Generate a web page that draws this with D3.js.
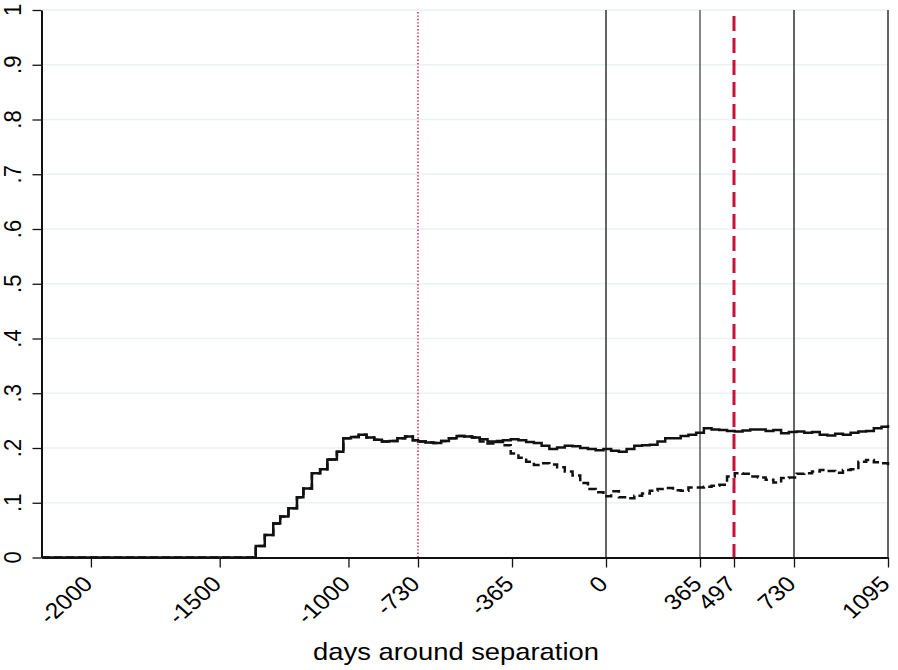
<!DOCTYPE html>
<html>
<head>
<meta charset="utf-8">
<script src="https://d3js.org/d3.v7.min.js"></script>
<style>
  body { margin: 0; background: #fff; }
  text { font-family: "Liberation Sans", Arial, sans-serif; }
</style>
</head>
<body>
<div id="chart"></div>
<script>

    // days around separation (x) and the two step series
    const days = [-2190, -1360, -1325, -1292, -1265, -1233, -1200, -1175, -1142, -1110, -1082, -1045,
        -1020, -990, -960, -930, -900, -870, -840, -810, -780, -750, -730, -700, -670, -640, -610,
        -580, -550, -520, -490, -460, -430, -400, -370, -340, -310, -280, -250, -220, -190, -160,
        -130, -100, -70, -40, -10, 20, 50, 80, 110, 140, 170, 200, 230, 260, 290, 320, 350, 380,
        410, 440, 470, 500, 530, 560, 590, 620, 650, 680, 710, 740, 770, 800, 830, 860, 890, 920,
        950, 980, 1010, 1040, 1070, 1095];

    const solid = [0, 0.021, 0.041, 0.062, 0.075, 0.090, 0.110, 0.126, 0.154, 0.161, 0.179, 0.193,
        0.218, 0.220, 0.224, 0.219, 0.215, 0.212, 0.213, 0.218, 0.221, 0.214, 0.212, 0.210, 0.209, 0.213, 0.218,
        0.222, 0.221, 0.219, 0.216, 0.212, 0.211, 0.214, 0.216, 0.214, 0.211, 0.209, 0.204, 0.198, 0.201, 0.204,
        0.203, 0.200, 0.198, 0.196, 0.198, 0.195, 0.193, 0.198, 0.204, 0.205, 0.206, 0.212, 0.218, 0.218, 0.222, 0.224, 0.228, 0.236,
        0.234, 0.233, 0.231, 0.230, 0.232, 0.234, 0.234, 0.231, 0.233, 0.227, 0.229, 0.230, 0.228, 0.229, 0.224, 0.223, 0.226, 0.224,
        0.228, 0.230, 0.231, 0.236, 0.239, 0.242];

    const dashed = [0, 0.021, 0.041, 0.062, 0.075, 0.090, 0.110, 0.126, 0.154, 0.161, 0.179, 0.193,
        0.218, 0.220, 0.224, 0.219, 0.215, 0.212, 0.213, 0.218, 0.221, 0.214, 0.212, 0.210, 0.209, 0.213, 0.218,
        0.222, 0.221, 0.219, 0.212, 0.208, 0.213, 0.205, 0.190, 0.182, 0.175, 0.169, 0.172, 0.170, 0.165, 0.157,
        0.150, 0.136, 0.125, 0.119, 0.112, 0.121, 0.110, 0.108, 0.113, 0.117, 0.122, 0.125, 0.127, 0.123, 0.122, 0.128, 0.128, 0.129,
        0.131, 0.133, 0.148, 0.154, 0.153, 0.148, 0.146, 0.142, 0.137, 0.145, 0.146, 0.153, 0.154, 0.157, 0.160, 0.158, 0.155, 0.160,
        0.161, 0.175, 0.178, 0.174, 0.172, 0.163];

    const xTicks = [-2000, -1500, -1000, -730, -365, 0, 365, 497, 730, 1095];
    const yTicks = [0, .1, .2, .3, .4, .5, .6, .7, .8, .9, 1];
    const blackLines = [0, 365, 730, 1095];
    const redDotted = [-730];
    const redDashed = [497];

    const width = 898, height = 670;
    const plot = {left: 42, right: 888, top: 10, bottom: 557.5};
    const stretch = 1.12;   // the original export is a bit wider than tall

    const svg = d3.select("#chart")
        .append("svg")
            .attr("width", width)
            .attr("height", height);

    const x = d3.scaleLinear().domain([-2190, 1095]).range([plot.left, plot.right]);
    const y = d3.scaleLinear().domain([0, 1]).range([plot.bottom, plot.top]);

    // grid
    svg.append("g")
        .selectAll("line")
        .data(yTicks.filter(d => d > 0))
        .join("line")
            .attr("x1", plot.left).attr("x2", plot.right)
            .attr("y1", d => y(d)).attr("y2", d => y(d))
            .attr("stroke", "#eaf2f3")
            .attr("stroke-width", 1.5);

    // reference lines
    svg.append("g")
        .selectAll("line")
        .data(blackLines)
        .join("line")
            .attr("x1", d => x(d)).attr("x2", d => x(d))
            .attr("y1", plot.top).attr("y2", plot.bottom)
            .attr("stroke", d => d == 365 ? "#444" : "#111")
            .attr("stroke-width", 1.3);

    svg.append("g")
        .selectAll("line")
        .data(redDotted)
        .join("line")
            .attr("x1", d => x(d)).attr("x2", d => x(d))
            .attr("y1", plot.top + 2).attr("y2", plot.bottom)
            .attr("stroke", "#c8103c")
            .attr("stroke-width", 1.4)
            .attr("stroke-dasharray", "1.4,2");

    svg.append("g")
        .selectAll("line")
        .data(redDashed)
        .join("line")
            .attr("x1", d => x(d)).attr("x2", d => x(d))
            .attr("y1", plot.top + 6).attr("y2", plot.bottom)
            .attr("stroke", "#c8103c")
            .attr("stroke-width", 3)
            .attr("stroke-dasharray", "15,7");

    // series
    const line = d3.line()
        .x(d => x(d[0]))
        .y(d => y(d[1]))
        .curve(d3.curveStepAfter);

    svg.append("path")
        .datum(days.map((d, i) => [d, dashed[i]]))
        .attr("d", line)
        .attr("fill", "none")
        .attr("stroke", "#111")
        .attr("stroke-width", 2.5)
        .attr("stroke-dasharray", "8,4");

    svg.append("path")
        .datum(days.map((d, i) => [d, solid[i]]))
        .attr("d", line)
        .attr("fill", "none")
        .attr("stroke", "#111")
        .attr("stroke-width", 2.5);

    // y axis
    const yAxis = svg.append("g")
        .attr("transform", "translate(" + (plot.left - 0.5) + ",0)")
        .call(d3.axisLeft(y).tickValues(yTicks).tickSize(9).tickSizeOuter(0).tickFormat(""));
    yAxis.select(".domain").attr("stroke", "#111").attr("stroke-width", 2);
    yAxis.selectAll(".tick line").attr("stroke", "#111").attr("stroke-width", 1.3);

    svg.append("g")
        .selectAll("text")
        .data(yTicks)
        .join("text")
            .attr("transform", d => "translate(21," + y(d) + ") scale(" + stretch + ",1) rotate(-90)")
            .attr("text-anchor", "middle")
            .style("font-size", "22px")
            .text(d => d == 0 ? "0" : d == 1 ? "1" : d3.format(".1f")(d).replace("0.", "."));

    // x axis
    const xAxis = svg.append("g")
        .attr("transform", "translate(0," + plot.bottom + ")")
        .call(d3.axisBottom(x).tickValues(xTicks).tickSize(10).tickSizeOuter(0).tickFormat(""));
    xAxis.select(".domain").attr("stroke", "#111").attr("stroke-width", 2);
    xAxis.selectAll(".tick line").attr("stroke", "#111").attr("stroke-width", 1.3);

    svg.append("g")
        .selectAll("text")
        .data(xTicks)
        .join("text")
            .attr("transform", d => "translate(" + (x(d) - 3) + ",580) scale(" + stretch + ",1) rotate(-45)")
            .attr("text-anchor", "end")
            .attr("dy", "0.35em")
            .style("font-size", "22px")
            .text(d => String(d));

    // axis title
    svg.append("text")
        .attr("transform", "translate(456,660) scale(1.14,1)")
        .attr("text-anchor", "middle")
        .style("font-size", "24px")
        .text("days around separation");

</script>
</body>
</html>
